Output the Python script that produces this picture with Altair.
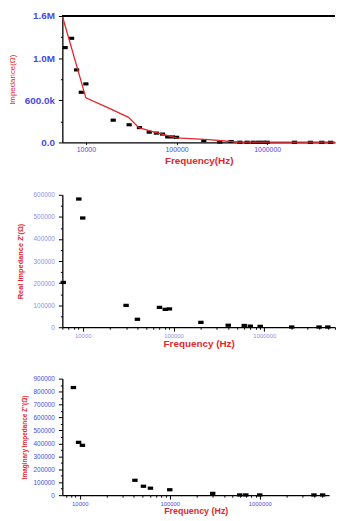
import altair as alt
import pandas as pd

# ---- data ----
f1 = [5900, 6950, 7900, 8900, 10000, 20000, 30000, 39000, 50000, 60000, 70000,
      80000, 90000, 100000, 200000, 300000, 400000, 500000, 600000, 700000,
      800000, 900000, 1000000, 2000000, 3000000, 4000000, 5000000]
z1 = [1.20e6, 1.318e6, 0.918e6, 0.635e6, 0.741e6, 0.282e6, 0.224e6, 0.188e6,
      0.130e6, 0.118e6, 0.106e6, 0.070e6, 0.070e6, 0.065e6, 0.024e6, 0.005e6,
      0.012e6, 0.003e6, 0.003e6, 0.003e6, 0.003e6, 0.003e6, 0.003e6, 0.003e6,
      0.002e6, 0.002e6, 0.002e6]
fit_f = [5500, 10000, 18700, 29500, 38400, 53000, 100000, 226000, 465000, 5600000]
fit_z = [1.6e6, 0.565e6, 0.424e6, 0.318e6, 0.188e6, 0.141e6, 0.059e6, 0.035e6,
         0.006e6, 0.004e6]

f2 = [6100, 9050, 10000, 30000, 40000, 70000, 81000, 90000, 200000, 400000,
      600000, 700000, 900000, 2000000, 4000000, 5000000]
z2 = [203000, 581000, 495000, 99000, 36000, 90000, 81000, 83000, 22000, 9000,
      8000, 5000, 4000, 1000, 1000, 1000]

f3 = [8500, 9700, 10700, 41000, 51000, 61000, 100000, 300000, 600000, 700000,
      1000000, 4000000, 5000000]
z3 = [831000, 408000, 385000, 115000, 69000, 54000, 42000, 14000, 2000, 2000,
      2000, 2000, 2000]

y1_major = [0, 533333, 1066667, 1600000]
y1_minor = [266667, 800000, 1333333]
y1_labels = ["0.0", "600.0k", "1.0M", "1.6M"]
decades = [10000, 100000, 1000000]

RED = "#e3262c"
BLUE = "#4a4ae0"
LAV = "#8e8ee8"
FONT = "Liberation Sans"
SHAPE = "M-1,-0.6H1V0.6H-1Z"
W1, H1 = 276, 128


def log_ticks(lo, hi):
    out = []
    for d in [1000, 10000, 100000, 1000000]:
        for m in range(1, 10):
            v = m * d
            if lo <= v <= hi:
                out.append(v)
    return out


dec_test = " || ".join(f"datum.value == {d}" for d in decades)

# ---- panel 1 ----
df1 = pd.DataFrame({"f": f1, "z": z1})
dfit = pd.DataFrame({"f": fit_f, "z": fit_z})
xs1 = alt.Scale(type="log", domain=[5500, 5.6e6], nice=False)
ys1 = alt.Scale(domain=[0, 1600000], nice=False, zero=True)

lab_expr1 = " : ".join(
    f"abs(datum.value - {v}) < 5 ? '{t}'" for v, t in zip(y1_major, y1_labels)
) + " : ''"
minor_test1 = " || ".join(f"datum.value == {v}" for v in y1_minor)
yaxis1 = alt.Axis(
    values=sorted(y1_major + y1_minor), labelExpr=lab_expr1,
    title="Impedance(Ω)", titleColor=RED, titleFontSize=8, titleFontWeight="normal",
    titleFont=FONT, titlePadding=8,
    labelColor=BLUE, labelFontSize=10, labelFontWeight="bold", labelFont=FONT,
    labelPadding=4, tickSize=alt.condition(minor_test1, alt.value(2), alt.value(4)),
    tickColor="black", domainColor="black", domainWidth=1.3, grid=False,
    labelOverlap=False,
)
xaxis1 = alt.Axis(
    values=decades, format="d", tickSize=2, tickColor="black", domainColor="black",
    domainWidth=1.3, labelColor=BLUE, labelFontSize=7, labelFont=FONT, labelPadding=1,
    title="Frequency(Hz)", titleColor=RED, titleFontSize=10, titleFontWeight="bold",
    titleFont=FONT, titlePadding=3, grid=False, labelOverlap=False)

pts1 = alt.Chart(df1).mark_point(shape=SHAPE, filled=True, color="black", size=28, opacity=1).encode(
    x=alt.X("f:Q", scale=xs1, axis=xaxis1),
    y=alt.Y("z:Q", scale=ys1, axis=yaxis1),
)
line1 = alt.Chart(dfit).mark_line(color=RED, strokeWidth=1.3).encode(
    x=alt.X("f:Q", scale=xs1, axis=xaxis1),
    y=alt.Y("z:Q", scale=ys1, axis=yaxis1),
)
frame_top = alt.Chart(dfit).mark_rule(color="black", strokeWidth=1.5).encode(
    x=alt.value(0), x2=alt.value(W1), y=alt.value(0)
)
panel1 = alt.layer(pts1, line1, frame_top).properties(width=W1, height=H1)


def scatter_panel(f, z, xdom, ymax, title, tsize, lcolor, width, height, tpad, xtitle_size, xtpad):
    df = pd.DataFrame({"f": f, "z": z})
    yvals = list(range(0, ymax + 1, 50000))
    xvals = log_ticks(xdom[0], xdom[1])
    return alt.Chart(df).mark_point(shape=SHAPE, filled=True, color="black", size=30, opacity=1).encode(
        x=alt.X("f:Q", scale=alt.Scale(type="log", domain=xdom, nice=False), axis=alt.Axis(
            values=xvals, format="d",
            labelExpr=f"({dec_test}) ? datum.label : ''",
            tickSize=alt.condition(dec_test, alt.value(4), alt.value(2)),
            tickColor="black", domainColor="black", domainWidth=1.3,
            labelColor=lcolor, labelFontSize=6, labelFont=FONT, labelPadding=1,
            title="Frequency (Hz)", titleColor=RED, titleFontSize=xtitle_size,
            titleFontWeight="bold", titleFont=FONT, titlePadding=xtpad, grid=False,
            labelOverlap=False)),
        y=alt.Y("z:Q", scale=alt.Scale(domain=[0, ymax], nice=False), axis=alt.Axis(
            values=yvals, format="d",
            labelExpr="datum.value % 100000 == 0 ? datum.label : ''",
            tickSize=alt.condition("datum.value % 100000 == 0", alt.value(4), alt.value(2)),
            tickColor="black", domainColor="black", domainWidth=1.3,
            labelColor=lcolor, labelFontSize=6.5, labelFont=FONT, labelPadding=4,
            title=title, titleColor=RED, titleFontSize=tsize, titleFontWeight="bold",
            titleFont=FONT, titlePadding=tpad, grid=False, labelOverlap=False)),
    ).properties(width=width, height=height)


panel2 = scatter_panel(f2, z2, [5960, 6.0e6], 600000, "Real Impedance Z'(Ω)", 7.5, LAV,
                       276, 134, 9, 10, 1)
panel3 = scatter_panel(f3, z3, [6400, 5.9e6], 900000, "Imaginary Impedance Z''(Ω)", 6.5, BLUE,
                       270, 118, 6, 9, 1)

chart = alt.vconcat(panel1, panel2, panel3, spacing=27).properties(
    padding={"left": 0, "top": 0, "right": 0, "bottom": 0},
    background="white",
).configure_view(stroke=None)

chart.save("out.html", embed_options={"renderer": "svg", "actions": False})
